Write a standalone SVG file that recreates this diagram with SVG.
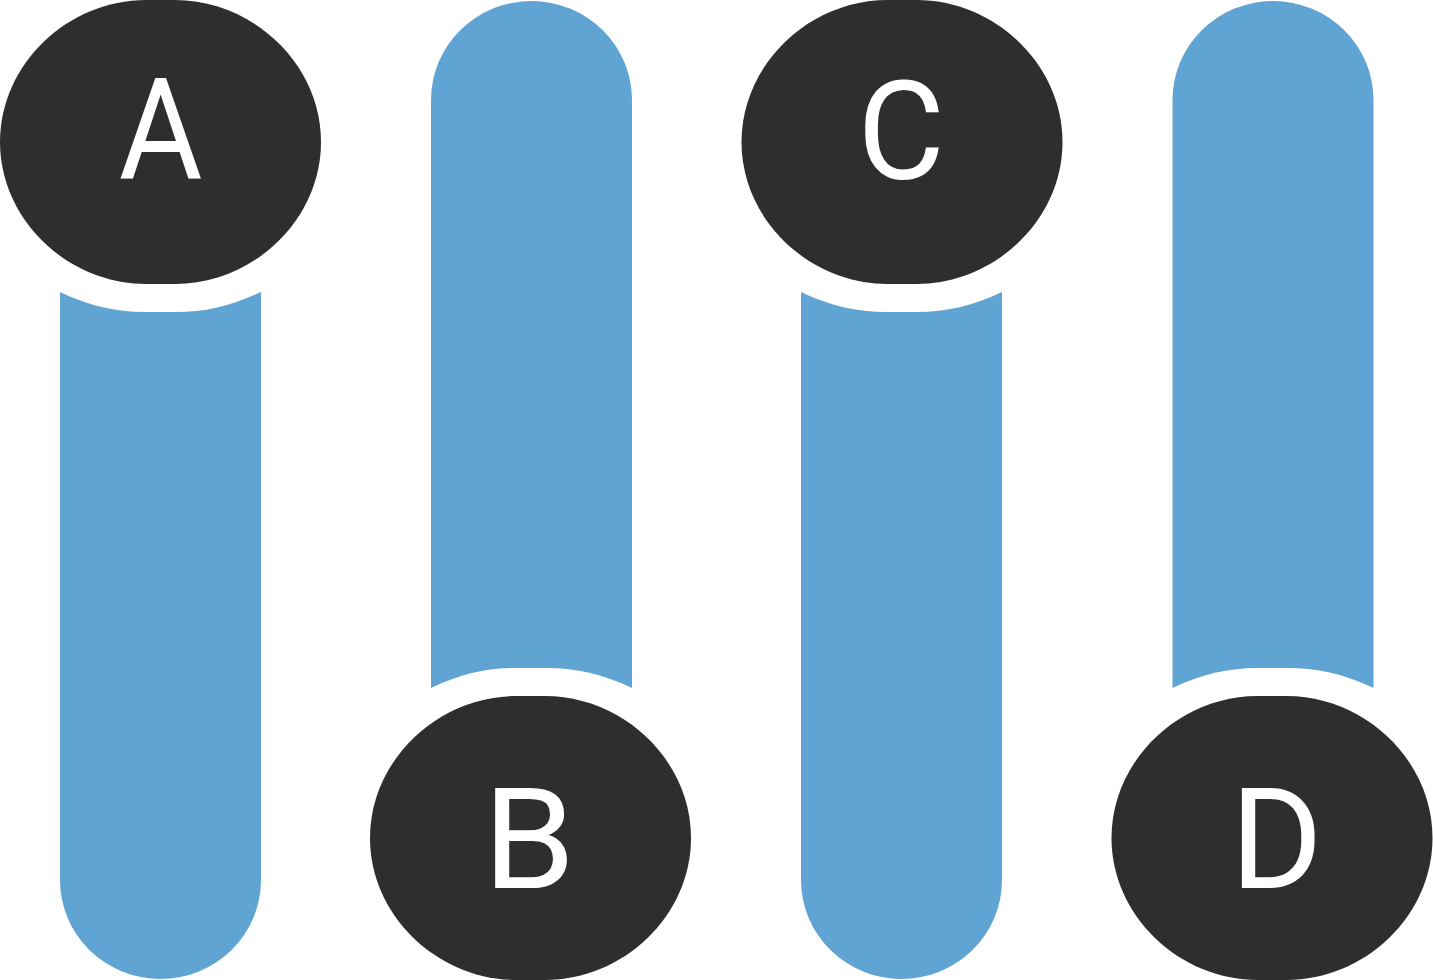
<svg xmlns="http://www.w3.org/2000/svg" width="1433" height="980" viewBox="0 0 1433 980">
<style>
.bar{fill:#5fa4d3}
.disc{fill:#2e2e2f}
.lbl{fill:#fff;font-family:"Roboto","Noto Sans",sans-serif;font-size:141px;text-anchor:middle}
</style>
<defs>
<path id="blob" d="M146 0H175C253 0 321 64 321 142C321 220 253 284 175 284H146C68 284 0 220 0 142C0 64 68 0 146 0Z"/>
<path id="barDown" d="M0 292C30 306 55 312 85 312H116C146 312 171 306 201 292V880A100.500 99 0 0 1 0 880Z"/>
<path id="barUp" d="M0 688C30 674 55 668 85 668H116C146 668 171 674 201 688V100A100.500 99 0 0 0 0 100Z"/>
</defs>
<rect width="1433" height="980" fill="#fff"/>
<g id="bars">
<use href="#barDown" class="bar" x="60"/>
<use href="#barUp" class="bar" x="431"/>
<use href="#barDown" class="bar" x="801"/>
<use href="#barUp" class="bar" x="1172.500"/>
</g>
<g id="node-a"><use href="#blob" class="disc" x="0" y="0"/><text class="lbl" transform="translate(160.500 178) scale(.91 1)">A</text></g>
<g id="node-b"><use href="#blob" class="disc" x="370" y="696"/><text class="lbl" transform="translate(529 888) scale(1.05 1)">B</text></g>
<g id="node-c"><use href="#blob" class="disc" x="741.500" y="0"/><text class="lbl" transform="translate(901 179) scale(.95 .98)">C</text></g>
<g id="node-d"><use href="#blob" class="disc" x="1111.500" y="696"/><text class="lbl" transform="translate(1276.500 888)">D</text></g>
</svg>
